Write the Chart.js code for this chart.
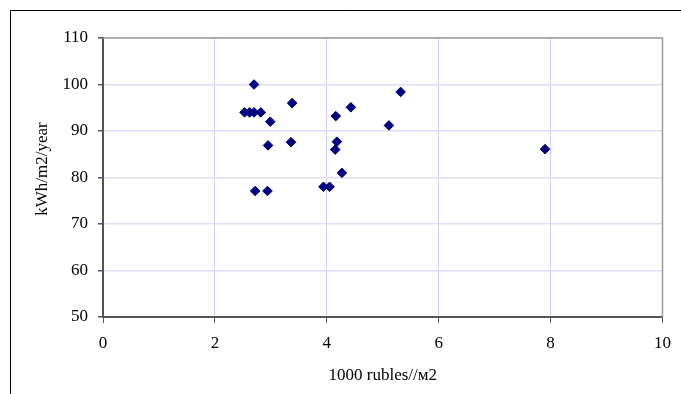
<!DOCTYPE html>
<html>
<head>
<meta charset="utf-8">
<script src="https://cdn.jsdelivr.net/npm/chart.js@4"></script>
<style>
  html, body { margin: 0; padding: 0; background: #fff; }
  #wrap { width: 681px; height: 394px; }
</style>
</head>
<body>
<div id="wrap"><canvas id="c" width="681" height="394"></canvas></div>
<script>
// Construction cost (thousand rubles per m2) vs. energy use (kWh/m2/year)
const costValues = [2.70, 2.53, 2.62, 2.70, 2.82, 3.38, 2.99, 4.16, 4.43, 5.32, 5.11,
                    2.95, 3.36, 4.18, 4.15, 4.27, 3.94, 4.05, 2.72, 2.94, 7.90];
const energyValues = [100.0, 94.0, 94.0, 94.0, 94.0, 96.0, 92.0, 93.2, 95.1, 98.4, 91.2,
                      86.9, 87.6, 87.7, 86.0, 81.0, 78.0, 78.0, 77.1, 77.1, 86.1];
const xTicks = [0, 2, 4, 6, 8, 10];
const yTicks = [50, 60, 70, 80, 90, 100, 110];
const xTitle = '1000 rubles//м2';
const yTitle = 'kWh/m2/year';

const points = costValues.map((x, i) => ({ x: x, y: energyValues[i] }));

const serif = '"Liberation Serif", "Times New Roman", serif';

// Outer frame and the grey top/right edges of the plot area
const framePlugin = {
  id: 'frame',
  beforeDraw(chart) {
    const ctx = chart.ctx;
    ctx.save();
    ctx.fillStyle = '#ffffff';
    ctx.fillRect(0, 0, chart.width, chart.height);
    ctx.strokeStyle = '#000000';
    ctx.lineWidth = 1;
    ctx.beginPath();
    ctx.moveTo(10.5, chart.height + 5);
    ctx.lineTo(10.5, 10.5);
    ctx.lineTo(chart.width + 5, 10.5);
    ctx.stroke();
    ctx.restore();
  },
  afterDraw(chart) {
    const a = chart.chartArea;
    const ctx = chart.ctx;
    ctx.save();
    ctx.strokeStyle = '#9a9a9a';
    ctx.lineWidth = 1.5;
    ctx.beginPath();
    ctx.moveTo(a.left, a.top);
    ctx.lineTo(a.right, a.top);
    ctx.lineTo(a.right, a.bottom);
    ctx.stroke();
    ctx.restore();
  }
};

// The y title sits a little above the middle of the axis
function yTitleOffsetText(text) {
  return '\u2007\u2007' + text;
}

new Chart(document.getElementById('c'), {
  type: 'scatter',
  data: {
    datasets: [{
      data: points,
      pointStyle: 'rectRot',
      pointRadius: 4.8,
      pointHoverRadius: 4.8,
      backgroundColor: '#000080',
      borderColor: '#000080',
      borderWidth: 1
    }]
  },
  plugins: [framePlugin],
  options: {
    responsive: false,
    animation: false,
    events: [],
    layout: { padding: { left: 0, right: 14, top: 38, bottom: 0 } },
    plugins: { legend: { display: false }, tooltip: { enabled: false } },
    scales: {
      x: {
        type: 'linear',
        min: 0, max: 10,
        afterFit(scale) { scale.height = 77; },
        afterBuildTicks(scale) { scale.ticks = xTicks.map(v => ({ value: v })); },
        grid: { color: '#ccccff', lineWidth: 1, tickLength: 6, tickColor: '#555555', drawTicks: true },
        border: { color: '#555555', width: 2 },
        ticks: { color: '#000', font: { family: serif, size: 17 }, padding: 10, maxRotation: 0 },
        title: { display: true, text: xTitle, color: '#000', font: { family: serif, size: 17 }, padding: { top: 4, bottom: 8 } }
      },
      y: {
        type: 'linear',
        min: 50, max: 110,
        afterFit(scale) { scale.width = 103; },
        afterBuildTicks(scale) { scale.ticks = yTicks.map(v => ({ value: v })); },
        grid: { color: '#dedef6', lineWidth: 1.5, tickLength: 5, tickColor: '#555555', drawTicks: true },
        border: { color: '#555555', width: 2 },
        ticks: { color: '#000', font: { family: serif, size: 17 }, padding: 10 },
        title: { display: true, text: yTitleOffsetText(yTitle), color: '#000', font: { family: serif, size: 17 }, padding: { top: 32, bottom: 4 } }
      }
    }
  }
});
</script>
</body>
</html>
